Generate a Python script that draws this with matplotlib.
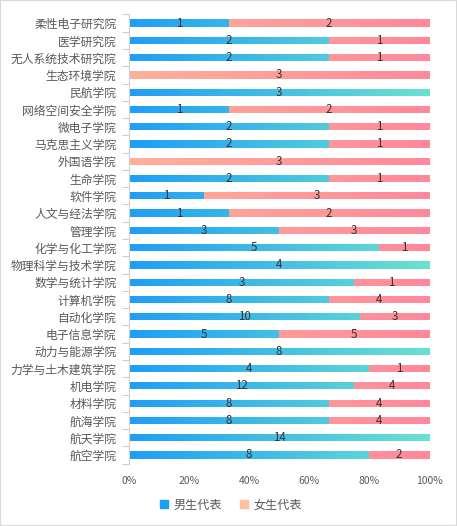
import matplotlib.pyplot as plt
import numpy as np
from matplotlib.colors import LinearSegmentedColormap
from matplotlib.patches import Rectangle

plt.rcParams['font.family'] = ['Noto Sans CJK SC', 'DejaVu Sans']

colleges = ['柔性电子研究院', '医学研究院', '无人系统技术研究院', '生态环境学院', '民航学院',
            '网络空间安全学院', '微电子学院', '马克思主义学院', '外国语学院', '生命学院',
            '软件学院', '人文与经法学院', '管理学院', '化学与化工学院', '物理科学与技术学院',
            '数学与统计学院', '计算机学院', '自动化学院', '电子信息学院', '动力与能源学院',
            '力学与土木建筑学院', '机电学院', '材料学院', '航海学院', '航天学院', '航空学院']
male = [1, 2, 2, 0, 3, 1, 2, 2, 0, 2, 1, 1, 3, 5, 4, 3, 8, 10, 5, 8, 4, 12, 8, 8, 14, 8]
female = [2, 1, 1, 3, 0, 2, 1, 1, 3, 1, 3, 2, 3, 1, 0, 1, 4, 3, 5, 0, 1, 4, 4, 4, 0, 2]
series_names = ['男生代表', '女生代表']

male = np.array(male, dtype=float)
female = np.array(female, dtype=float)
total = male + female
male_share = male / total
female_share = female / total

fig = plt.figure(figsize=(4.57, 5.26), dpi=100)
fig.patches.append(Rectangle((0, 0), 1, 1, transform=fig.transFigure, fill=False,
                             edgecolor='#d9d9d9', linewidth=1.5))
ax = fig.add_axes([0.282, 0.1186, 0.657, 0.854])

y = np.arange(len(colleges))
h = 0.42
bars_m = ax.barh(y, male_share, height=h, color='none')
bars_f = ax.barh(y, female_share, left=male_share, height=h, color='none')

# gradient runs across the whole axis, clipped to each bar
cmap_m = LinearSegmentedColormap.from_list('m', ['#1e9ef6', '#6ae2d0'])
cmap_f = LinearSegmentedColormap.from_list('f', ['#ffb09a', '#ff889b'])
grad = np.linspace(0, 1, 256).reshape(1, -1)
for bars, cmap in [(bars_m, cmap_m), (bars_f, cmap_f)]:
    for p in bars.patches:
        if p.get_width() <= 0:
            continue
        yy = p.get_y()
        im = ax.imshow(grad, cmap=cmap, aspect='auto', extent=(0, 1, yy, yy + h),
                       interpolation='bilinear', zorder=2)
        im.set_clip_path(p)

for i in range(len(colleges)):
    if male[i] > 0:
        ax.text(male_share[i] / 2, y[i], f'{int(male[i])}', ha='center', va='center',
                fontsize=8.3, color='#333333', zorder=3)
    if female[i] > 0:
        ax.text(male_share[i] + female_share[i] / 2, y[i], f'{int(female[i])}', ha='center',
                va='center', fontsize=8.3, color='#333333', zorder=3)

ax.set_xlim(0, 1)
ax.set_ylim(len(colleges) - 0.5, -0.5)
ax.set_yticks(y)
ax.set_yticklabels(colleges, fontsize=8.5, color='#595959')
ax.set_yticks(np.arange(-0.5, len(colleges), 1), minor=True)
ax.tick_params(axis='y', which='major', length=0, pad=9)
ax.tick_params(axis='y', which='minor', length=5, color='#d0d0d0', width=0.8)
ax.set_xticks(np.linspace(0, 1, 6))
ax.set_xticklabels(['0%', '20%', '40%', '60%', '80%', '100%'], fontsize=7.5, color='#595959')
ax.tick_params(axis='x', length=0, pad=9)
for s in ['top', 'right', 'bottom']:
    ax.spines[s].set_visible(False)
ax.spines['left'].set_color('#d0d0d0')

handles = [Rectangle((0, 0), 1, 1, color='#1e9ef6'), Rectangle((0, 0), 1, 1, color='#ffc0a0')]
fig.legend(handles, series_names, loc='center', bbox_to_anchor=(0.505, 0.04), ncol=2,
           frameon=False, fontsize=8.7, handlelength=0.7, handleheight=0.7,
           handletextpad=0.4, columnspacing=1.5, labelcolor='#595959')

fig.savefig('out.png', dpi=100)
